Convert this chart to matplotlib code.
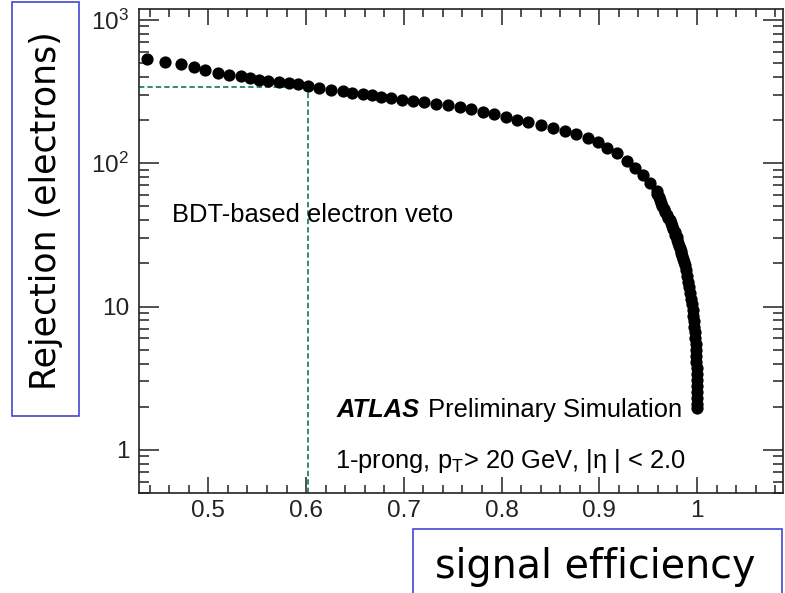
import matplotlib
matplotlib.use("Agg")
import matplotlib.pyplot as plt
from matplotlib.patches import Rectangle
from matplotlib.ticker import FixedLocator, MultipleLocator, LogLocator, NullFormatter

# === data: BDT electron veto, signal efficiency vs electron rejection ===
efficiency = [
    0.437, 0.456, 0.472, 0.485, 0.497, 0.510, 0.521, 0.533, 0.543, 0.552,
    0.561, 0.572, 0.582, 0.592, 0.602, 0.613, 0.6255, 0.6376, 0.6468, 0.6577,
    0.6673, 0.6765, 0.6867, 0.698, 0.7093, 0.7211, 0.7331, 0.7451, 0.757, 0.7689,
    0.7809, 0.7925, 0.8045, 0.8157, 0.827, 0.8406, 0.8526, 0.8645, 0.8764, 0.8884,
    0.8987, 0.9079, 0.9181, 0.9283, 0.9368, 0.9447, 0.9522, 0.9591,
    0.9595, 0.961, 0.9621, 0.963, 0.9646, 0.966, 0.9674, 0.969, 0.9705, 0.972,
    0.9731, 0.974, 0.9756, 0.977, 0.9779, 0.979, 0.9797, 0.981, 0.982, 0.983,
    0.9832, 0.984, 0.9846, 0.986, 0.9866, 0.988, 0.989, 0.990, 0.991, 0.992,
    0.993, 0.994, 0.9948, 0.9956, 0.9963, 0.9968, 0.9973, 0.9979, 0.9982, 0.9986,
    0.9989, 0.9992, 0.9994, 0.9996, 0.9998, 0.9999, 1.0, 1.0, 1.0, 1.0, 1.0,
]
rejection = [
    535, 508, 491, 469, 446, 427, 414, 403, 393, 382,
    374, 366, 360, 354, 343, 334, 326, 318, 311, 304,
    297, 291, 284, 278, 272, 266, 260, 254, 246, 238,
    229, 220, 210, 201, 193, 185, 177, 169, 161, 151,
    140, 128, 117, 104, 93, 83, 73, 64,
    61.2, 58.3, 55.5, 52.9, 50.4, 48.1, 45.8, 43.6, 41.6, 40.3,
    38.4, 36.6, 34.8, 33.2, 31.6, 30.6, 29.2, 27.8, 26.5, 25.7,
    24.5, 23.7, 22.6, 21.5, 20.5, 19.5, 18.0, 16.4, 14.9, 13.7,
    12.5, 11.3, 10.4, 9.5, 8.6, 7.9, 7.2, 6.6, 6.0, 5.5,
    5.0, 4.53, 4.11, 3.74, 3.39, 3.08, 2.80, 2.54, 2.31, 2.09, 1.96,
]

# working point marked with guide lines
wp_eff = 0.602
wp_rej = 342

xtick_vals = [0.5, 0.6, 0.7, 0.8, 0.9, 1.0]
xtick_labels = ["0.5", "0.6", "0.7", "0.8", "0.9", "1"]
ytick_vals = [1, 10, 100, 1000]
ytick_labels = ["1", "10", r"$\mathregular{10^2}$", r"$\mathregular{10^3}$"]

XLIM = (0.429, 1.088)
YLIM = (0.5, 1190)

# === style ===
plt.rcParams["font.family"] = ["Liberation Sans", "DejaVu Sans"]
plt.rcParams["mathtext.fontset"] = "custom"
plt.rcParams["mathtext.rm"] = "Liberation Sans"
plt.rcParams["mathtext.it"] = "Liberation Sans:italic"
plt.rcParams["mathtext.bf"] = "Liberation Sans:bold"

fig = plt.figure(figsize=(7.85, 5.93), dpi=100)
ax = fig.add_axes([0.1771, 0.1686, 0.8204, 0.8162])

ax.vlines(wp_eff, YLIM[0], wp_rej, colors="#006a4e", linestyles=(0, (3.5, 2)), lw=1.1, zorder=1)
ax.hlines(wp_rej, XLIM[0], wp_eff, colors="#006a4e", linestyles=(0, (3.5, 2)), lw=1.1, zorder=1)
ax.plot(efficiency, rejection, "o", color="black", ms=8.8, mew=0, zorder=3)

ax.set_yscale("log")
ax.set_xlim(*XLIM)
ax.set_ylim(*YLIM)

ax.xaxis.set_major_locator(FixedLocator(xtick_vals))
ax.set_xticklabels(xtick_labels)
ax.xaxis.set_minor_locator(MultipleLocator(0.02))
ax.yaxis.set_major_locator(FixedLocator(ytick_vals))
ax.set_yticklabels(ytick_labels)
ax.yaxis.set_minor_locator(LogLocator(base=10, subs=range(2, 10)))
ax.yaxis.set_minor_formatter(NullFormatter())

ax.tick_params(which="both", direction="in", top=True, right=True,
               colors="#222222", labelsize=17.6, width=1.1)
ax.tick_params(axis="x", which="major", length=11.5, pad=5)
ax.tick_params(axis="x", which="minor", length=5.8)
ax.tick_params(axis="y", which="major", length=14.4, pad=7)
ax.tick_params(axis="y", which="minor", length=7.2)
for s in ax.spines.values():
    s.set_linewidth(1.2)
    s.set_color("#222222")

# labels inside the frame
ax.text(0.0512, 0.574, "BDT-based electron veto", transform=ax.transAxes,
        fontsize=18.4, va="center", ha="left")
ax.text(0.307, 0.158, "ATLAS", transform=ax.transAxes, fontsize=18.4,
        fontweight="bold", fontstyle="italic", va="baseline", ha="left")
ax.text(0.449, 0.158, "Preliminary Simulation", transform=ax.transAxes,
        fontsize=18.4, va="baseline", ha="left")
ax.text(0.304, 0.051, "1-prong, p$_{\\mathregular{T}}$> 20 GeV, |η | < 2.0",
        transform=ax.transAxes, fontsize=18.4, va="baseline", ha="left")

# boxed axis titles
box_col = "#4646d2"
fig.patches.append(Rectangle((0.0153, 0.2985), 0.0854, 0.698, transform=fig.transFigure,
                             fill=False, edgecolor=box_col, lw=1.2))
fig.text(0.058, 0.645, "Rejection (electrons)", rotation=90, fontsize=25,
         family="DejaVu Sans", ha="center", va="center")
fig.patches.append(Rectangle((0.526, -0.02), 0.470, 0.128, transform=fig.transFigure,
                             fill=False, edgecolor=box_col, lw=1.2))
fig.text(0.758, 0.044, "signal efficiency", fontsize=28.5,
         family="DejaVu Sans", ha="center", va="center")

fig.savefig("out.png", dpi=100)
